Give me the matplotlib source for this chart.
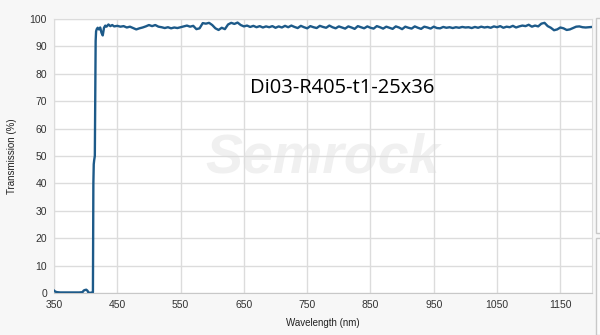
import numpy as np
import matplotlib
matplotlib.use('Agg')
from matplotlib import pyplot as plt
from matplotlib.patches import Rectangle

# 截止边附近的数据 (nm, %)
wl_edge = [350, 352, 355, 360, 370, 380, 390, 395, 397, 399, 401, 403, 404, 406, 410,
           411.5, 412.2, 412.8, 413.5, 414.5, 415.2, 415.8, 416.5, 417.5, 419, 421, 423,
           425, 427, 429, 431, 433, 436, 439, 442, 445]
t_edge = [0.9, 0.5, 0.3, 0.2, 0.2, 0.2, 0.2, 0.3, 0.9, 1.1, 1.2, 0.8, 0.3, 0.1, 0.1,
          0.3, 40, 47, 48.5, 50, 75, 92, 95.5, 96.3, 96.8, 96.2, 96.9,
          95.0, 94.0, 96.8, 97.6, 97.2, 98.0, 97.4, 97.8, 97.3]

# 450-1200 nm, 每 5 nm 一个点
wl_pass = list(range(450, 1205, 5))
t_pass = [
    97.5, 97.2, 97.4, 96.9, 97.2, 96.7, 96.2, 96.6, 96.9, 97.3,
    97.8, 97.4, 97.8, 97.2, 97.0, 96.7, 97.0, 96.6, 96.9, 96.7,
    97.0, 97.3, 97.6, 97.2, 97.5, 96.3, 96.6, 98.5, 98.3, 98.6,
    97.8, 96.6, 96.0, 96.8, 96.3, 98.0, 98.6, 98.2, 98.7, 97.8,
    97.3, 97.6, 97.1, 97.5, 97.0, 97.4, 96.9, 97.3, 97.0, 97.4,
    96.8, 97.3, 96.9, 97.5, 97.0, 97.6, 97.1, 96.7, 97.5, 97.0,
    96.6, 97.4, 97.0, 96.7, 97.5, 97.1, 96.8, 97.6, 97.0, 96.6,
    97.3, 96.9, 96.5, 97.3, 96.9, 96.4, 97.4, 97.0, 96.6, 97.3,
    96.8, 96.5, 97.4, 97.0, 96.5, 97.2, 96.8, 96.4, 97.3, 96.9,
    96.3, 97.2, 96.8, 96.5, 97.3, 96.8, 96.4, 97.2, 96.9, 96.5,
    97.2, 96.7, 96.6, 97.1, 96.8, 97.0, 96.7, 97.0, 96.8, 97.1,
    96.9, 97.0, 96.7, 97.1, 96.8, 97.2, 96.9, 97.1, 96.8, 97.3,
    97.0, 97.4, 96.8, 97.2, 97.0, 97.5, 96.9, 97.3, 97.6, 97.4,
    97.9, 97.2, 97.6, 97.3, 98.3, 98.6, 97.4, 96.8, 95.9, 96.2,
    96.9, 96.6, 96.0, 96.2, 96.7, 97.2, 97.3, 97.0, 96.9, 97.0,
    97.1,
]

wavelength = wl_edge + wl_pass
transmission = t_edge + t_pass

x_ticks = [350, 450, 550, 650, 750, 850, 950, 1050, 1150]
y_ticks = [0, 10, 20, 30, 40, 50, 60, 70, 80, 90, 100]
title = 'Di03-R405-t1-25x36'

fig = plt.figure(figsize=(6, 3.35), dpi=100)
fig.patch.set_facecolor('#f7f7f7')

# 右侧的灰色小框
fig.patches.append(Rectangle((596 / 600, 1 - 233 / 335), 0.02, 215 / 335,
                             transform=fig.transFigure, facecolor='#fbfbfb',
                             edgecolor='#c8c8c8', lw=1))
fig.patches.append(Rectangle((596 / 600, 0.0), 0.02, 1 - 238 / 335,
                             transform=fig.transFigure, facecolor='#fbfbfb',
                             edgecolor='#c8c8c8', lw=1))

ax = fig.add_axes([54 / 600, 1 - 293 / 335, 538 / 600, 274 / 335])
ax.set_facecolor('white')

ax.plot(wavelength, transmission, color='#1d5a89', lw=1.7, zorder=3)

ax.set_xlim(350, 1200)
ax.set_ylim(0, 100)
ax.set_xticks(x_ticks)
ax.set_yticks(y_ticks)
ax.grid(color='#dcdcdc', lw=1)
ax.tick_params(length=0, labelsize=7.5, labelcolor='#333333', pad=5,
               labelfontfamily='Liberation Sans')
for s in ax.spines.values():
    s.set_color('#dcdcdc')
ax.spines['bottom'].set_color('#c8c8c8')

ax.set_xlabel('Wavelength (nm)', fontsize=7, family='Liberation Sans', color='#222222', labelpad=6)
ax.set_ylabel('Transmission (%)', fontsize=7, family='Liberation Sans', color='#222222', labelpad=9)

# 水印
ax.text(0.5, 0.49, 'Semrock', transform=ax.transAxes, fontsize=40, fontweight='bold',
        fontstyle='italic', color='#f0f0f0', ha='center', va='center', zorder=1,
        family='Liberation Sans')

ax.text(0.364, 0.748, title, transform=ax.transAxes, fontsize=14.5, color='black',
        ha='left', va='center', family='Open Sans', zorder=4)

fig.savefig('out.png', dpi=100, facecolor=fig.get_facecolor())
